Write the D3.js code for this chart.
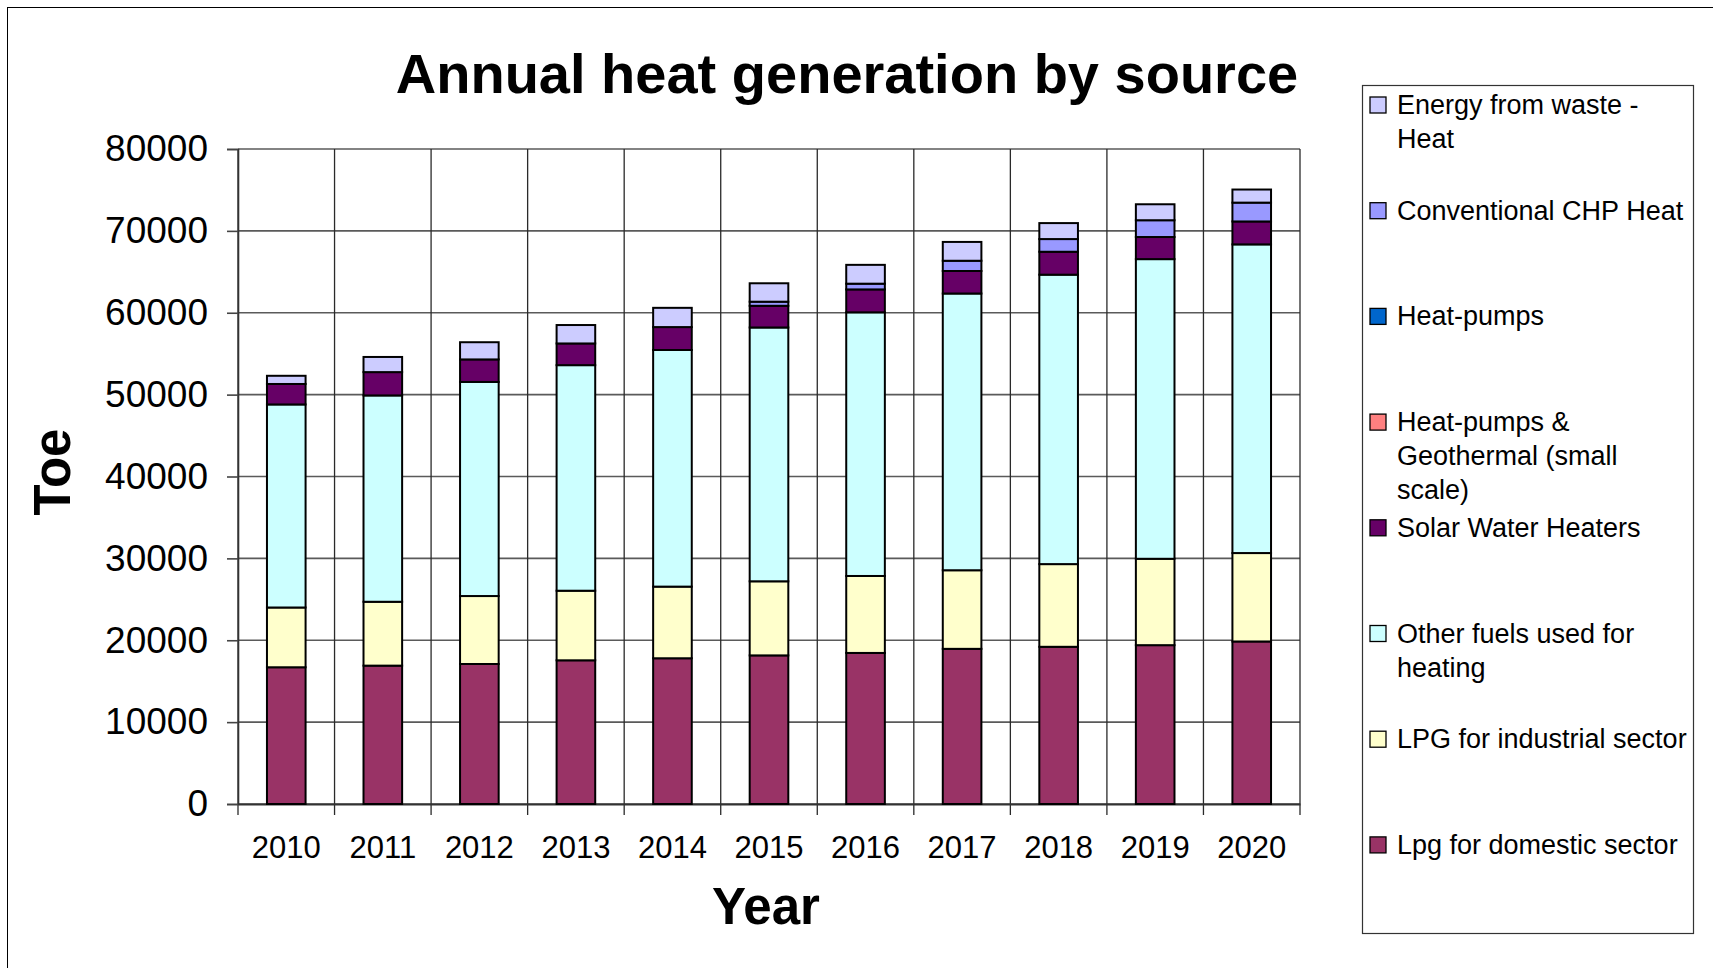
<!DOCTYPE html>
<html>
<head>
<meta charset="utf-8">
<script src="https://cdn.jsdelivr.net/npm/d3@7"></script>
<style>
  html, body { margin: 0; padding: 0; background: #fff; }
  svg { display: block; font-family: "Liberation Sans", Arial, sans-serif; }
</style>
</head>
<body>
<svg id="chart" width="1713" height="968"></svg>
<script>
// Years on the category axis
const years = ["2010", "2011", "2012", "2013", "2014", "2015", "2016", "2017", "2018", "2019", "2020"];

// Heat generation per source, toe (stacked bottom to top in this order)
const lpgDomestic   = [16700, 16900, 17100, 17550, 17800, 18150, 18450, 18950, 19200, 19400, 19850];
const lpgIndustrial = [7300, 7800, 8300, 8500, 8750, 9050, 9400, 9600, 10100, 10550, 10800];
const otherFuels    = [24800, 25200, 26150, 27550, 28900, 31000, 32200, 33800, 35350, 36600, 37700];
const solarHeaters  = [2500, 2850, 2750, 2650, 2800, 2650, 2800, 2750, 2800, 2700, 2800];
const hpGeothermal  = [0, 0, 0, 0, 0, 0, 0, 0, 0, 0, 0];
const heatPumps     = [0, 0, 0, 0, 0, 0, 0, 0, 0, 0, 0];
const chpHeat       = [0, 0, 0, 0, 0, 500, 700, 1250, 1550, 2050, 2300];
const wasteHeat     = [1000, 1850, 2100, 2250, 2350, 2250, 2300, 2300, 1950, 1950, 1600];

const seriesKeys = ["dom", "ind", "oth", "sol", "hpg", "hp", "chp", "efw"];
const seriesValues = [lpgDomestic, lpgIndustrial, otherFuels, solarHeaters, hpGeothermal, heatPumps, chpHeat, wasteHeat];
const seriesColors = ["#993366", "#FFFFCC", "#CCFFFF", "#660066", "#FF8080", "#0066CC", "#9999FF", "#CCCCFF"];
// Legend text, one array of lines per series
const seriesLabels = [
  ["Lpg for domestic sector"],
  ["LPG for industrial sector"],
  ["Other fuels used for", "heating"],
  ["Solar Water Heaters"],
  ["Heat-pumps &", "Geothermal (small", "scale)"],
  ["Heat-pumps"],
  ["Conventional CHP Heat"],
  ["Energy from waste -", "Heat"]
];

const yTicks = [0, 10000, 20000, 30000, 40000, 50000, 60000, 70000, 80000];
const titleText = "Annual heat generation by source";
const xTitle = "Year";
const yTitle = "Toe";

// Layout
const plot = { left: 238, right: 1300, top: 149, bottom: 804 };

const svg = d3.select("#chart");

// Outer chart frame (runs past the right and bottom edges)
svg.append("rect")
  .attr("x", 7.5).attr("y", 7.5)
  .attr("width", 1800).attr("height", 1000)
  .attr("fill", "none").attr("stroke", "#000").attr("stroke-width", 1);

const x = d3.scaleBand().domain(years).range([plot.left, plot.right]).paddingInner(0).paddingOuter(0);
const y = d3.scaleLinear().domain([0, 80000]).range([plot.bottom, plot.top]);

const barWidth = x.bandwidth() * 0.4;

// Horizontal gridlines
svg.append("g").selectAll("line").data(yTicks).join("line")
  .attr("x1", plot.left).attr("x2", plot.right)
  .attr("y1", d => y(d)).attr("y2", d => y(d))
  .attr("stroke", "#5a5a5a").attr("stroke-width", 1.6);

// Vertical gridlines at category boundaries
const boundaries = years.map(d => x(d)).concat([plot.right]);
svg.append("g").selectAll("line").data(boundaries).join("line")
  .attr("x1", d => d).attr("x2", d => d)
  .attr("y1", plot.top).attr("y2", plot.bottom + 11)
  .attr("stroke", "#2a2a2a").attr("stroke-width", 1.3);

// Y axis
const yAxis = d3.axisLeft(y).tickValues(yTicks).tickFormat(d3.format("d")).tickSize(11).tickPadding(19);
const gy = svg.append("g").attr("transform", `translate(${plot.left},0)`).call(yAxis);
gy.select(".domain").attr("stroke", "#333").attr("stroke-width", 1.6);
gy.selectAll(".tick line").attr("stroke", "#444").attr("stroke-width", 1.6);
gy.selectAll(".tick text").attr("font-size", 37).attr("fill", "#000")
  .attr("font-family", "'Liberation Sans', Arial, sans-serif");

// X axis
const xAxis = d3.axisBottom(x).tickSize(0).tickPadding(0);
const gx = svg.append("g").attr("transform", `translate(0,${plot.bottom})`).call(xAxis);
gx.select(".domain").attr("stroke", "#333").attr("stroke-width", 2);
gx.selectAll(".tick text").attr("font-size", 31).attr("fill", "#000")
  .attr("dy", null).attr("y", 54)
  .attr("font-family", "'Liberation Sans', Arial, sans-serif");

// Stacked bars
const rows = years.map((yr, i) => {
  const r = { year: yr };
  seriesKeys.forEach((k, s) => { r[k] = seriesValues[s][i]; });
  return r;
});
const stacked = d3.stack().keys(seriesKeys)(rows);

svg.append("g").selectAll("g").data(stacked).join("g")
  .attr("fill", (d, i) => seriesColors[i])
  .selectAll("rect")
  .data(d => d.filter(p => p[1] - p[0] > 0))
  .join("rect")
  .attr("x", p => x(p.data.year) + (x.bandwidth() - barWidth) / 2)
  .attr("width", barWidth)
  .attr("y", p => y(p[1]))
  .attr("height", p => y(p[0]) - y(p[1]))
  .attr("stroke", "#000").attr("stroke-width", 2);

// Title
svg.append("text")
  .attr("x", 847).attr("y", 93)
  .attr("text-anchor", "middle")
  .attr("font-size", 56).attr("font-weight", "bold")
  .text(titleText);

// Axis titles
svg.append("text")
  .attr("x", (plot.left + plot.right) / 2 - 3).attr("y", 924)
  .attr("text-anchor", "middle")
  .attr("font-size", 51).attr("font-weight", "bold")
  .text(xTitle);

svg.append("text")
  .attr("transform", "translate(70,472) rotate(-90)")
  .attr("text-anchor", "middle")
  .attr("font-size", 51).attr("font-weight", "bold")
  .text(yTitle);

// Legend
const legend = svg.append("g");
legend.append("rect")
  .attr("x", 1362.5).attr("y", 85.5)
  .attr("width", 331).attr("height", 848)
  .attr("fill", "#fff").attr("stroke", "#333").attr("stroke-width", 1.2);

const legendOrder = d3.range(seriesKeys.length).reverse();
const entry = legend.selectAll("g.entry").data(legendOrder).join("g")
  .attr("class", "entry")
  .attr("transform", (s, i) => `translate(0,${105 + i * 105.7})`);

entry.append("rect")
  .attr("x", 1370).attr("y", -8)
  .attr("width", 16).attr("height", 16)
  .attr("fill", s => seriesColors[s])
  .attr("stroke", "#000").attr("stroke-width", 1.3);

entry.append("text")
  .attr("font-size", 27)
  .attr("fill", "#000")
  .selectAll("tspan")
  .data(s => seriesLabels[s])
  .join("tspan")
  .attr("x", 1397)
  .attr("y", (d, j) => 9 + j * 34)
  .text(d => d);
</script>
</body>
</html>
